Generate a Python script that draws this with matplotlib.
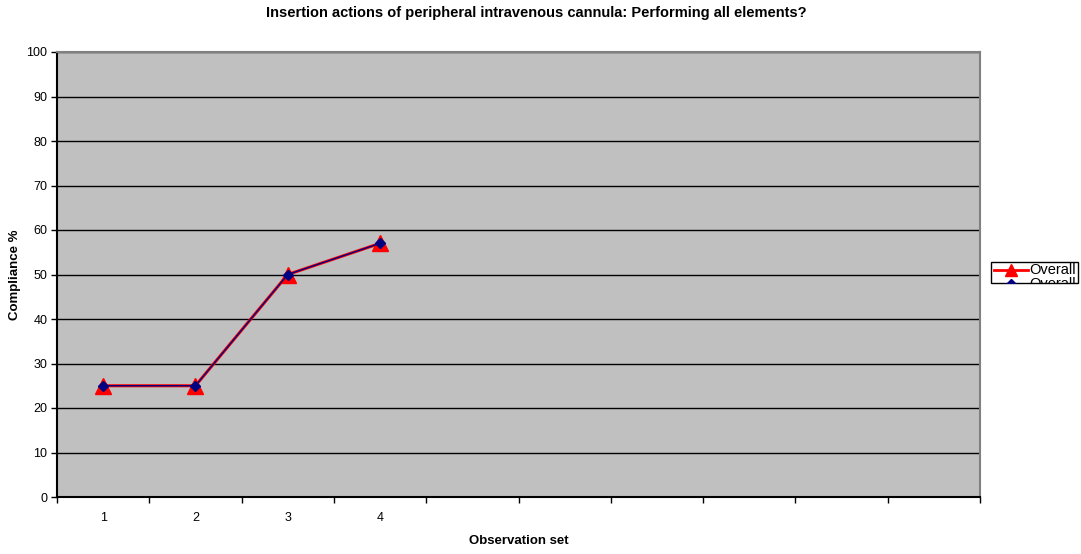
import numpy as np
import matplotlib.pyplot as plt
from matplotlib.patches import Rectangle
from matplotlib.lines import Line2D

plt.rcParams['font.family'] = ['Liberation Sans', 'DejaVu Sans']

# observation sets and compliance (%)
obs_sets = [1, 2, 3, 4]
overall_a = [25, 25, 50, 57]
overall_b = [25, 25, 50, 57]
n_slots = 10
series_name = 'Overall'

fig = plt.figure(figsize=(10.81, 5.54), dpi=100)
ax = fig.add_axes([57 / 1081, 1 - 497 / 554, 923 / 1081, 445 / 554])
ax.set_facecolor('#C0C0C0')

ax.plot(obs_sets, overall_a, color='#FF0000', lw=2.2, marker='^', ms=11,
        mfc='#FF0000', mec='#FF0000', zorder=3)
ax.plot(obs_sets, overall_b, color='#000080', lw=1, marker='D', ms=5.5,
        mfc='#000080', mec='#000080', zorder=4)

ax.set_xlim(0.5, n_slots + 0.5)
ax.set_ylim(0, 100)
ax.set_yticks(np.arange(0, 101, 10))
ax.yaxis.grid(True, color='black', lw=1)
ax.set_axisbelow(True)

# category labels sit between the tick marks
ax.set_xticks(obs_sets)
ax.set_xticklabels([str(v) for v in obs_sets])
ax.set_xticks(np.arange(0.5, n_slots + 1, 1), minor=True)
ax.tick_params(axis='x', which='major', length=0, pad=11, labelsize=9)
ax.tick_params(axis='x', which='minor', length=4, width=1, direction='out')
ax.tick_params(axis='y', length=4, width=1, labelsize=9, pad=3)

for side in ['left', 'bottom']:
    ax.spines[side].set_color('black')
    ax.spines[side].set_linewidth(1.5)
for side in ['top', 'right']:
    ax.spines[side].set_color('#808080')
    ax.spines[side].set_linewidth(1.5)

ax.set_xlabel('Observation set', fontsize=9.5, fontweight='bold', labelpad=8)
ax.set_ylabel('Compliance %', fontsize=9.5, fontweight='bold', labelpad=4)
fig.text(536 / 1081, 1 - 13 / 554,
         'Insertion actions of peripheral intravenous cannula: Performing all elements?',
         ha='center', va='center', fontsize=10.5, fontweight='bold')

# legend box: second entry is clipped by the frame
W, H = 1081, 554
box = Rectangle((991 / W, 1 - 283 / H), 87 / W, 21 / H, transform=fig.transFigure,
                facecolor='white', edgecolor='black', lw=1)
fig.add_artist(box)
entries = [('#FF0000', '^', 9, 2, 270), ('#000080', 'D', 5, 1, 284)]
for col, mk, ms, lw, yy in entries:
    y = 1 - yy / H
    ln = Line2D([994 / W, 1028 / W], [y, y], transform=fig.transFigure,
                color=col, lw=lw)
    mkr = Line2D([1011 / W], [y], transform=fig.transFigure, color=col,
                 marker=mk, ms=ms, lw=0)
    txt = fig.text(1029 / W, y, series_name, fontsize=10.5, va='center', ha='left')
    for a in (ln, mkr):
        fig.add_artist(a)
    for a in (ln, mkr, txt):
        a.set_clip_path(box)
        a.set_clip_on(True)

fig.savefig('out.png', dpi=100)
